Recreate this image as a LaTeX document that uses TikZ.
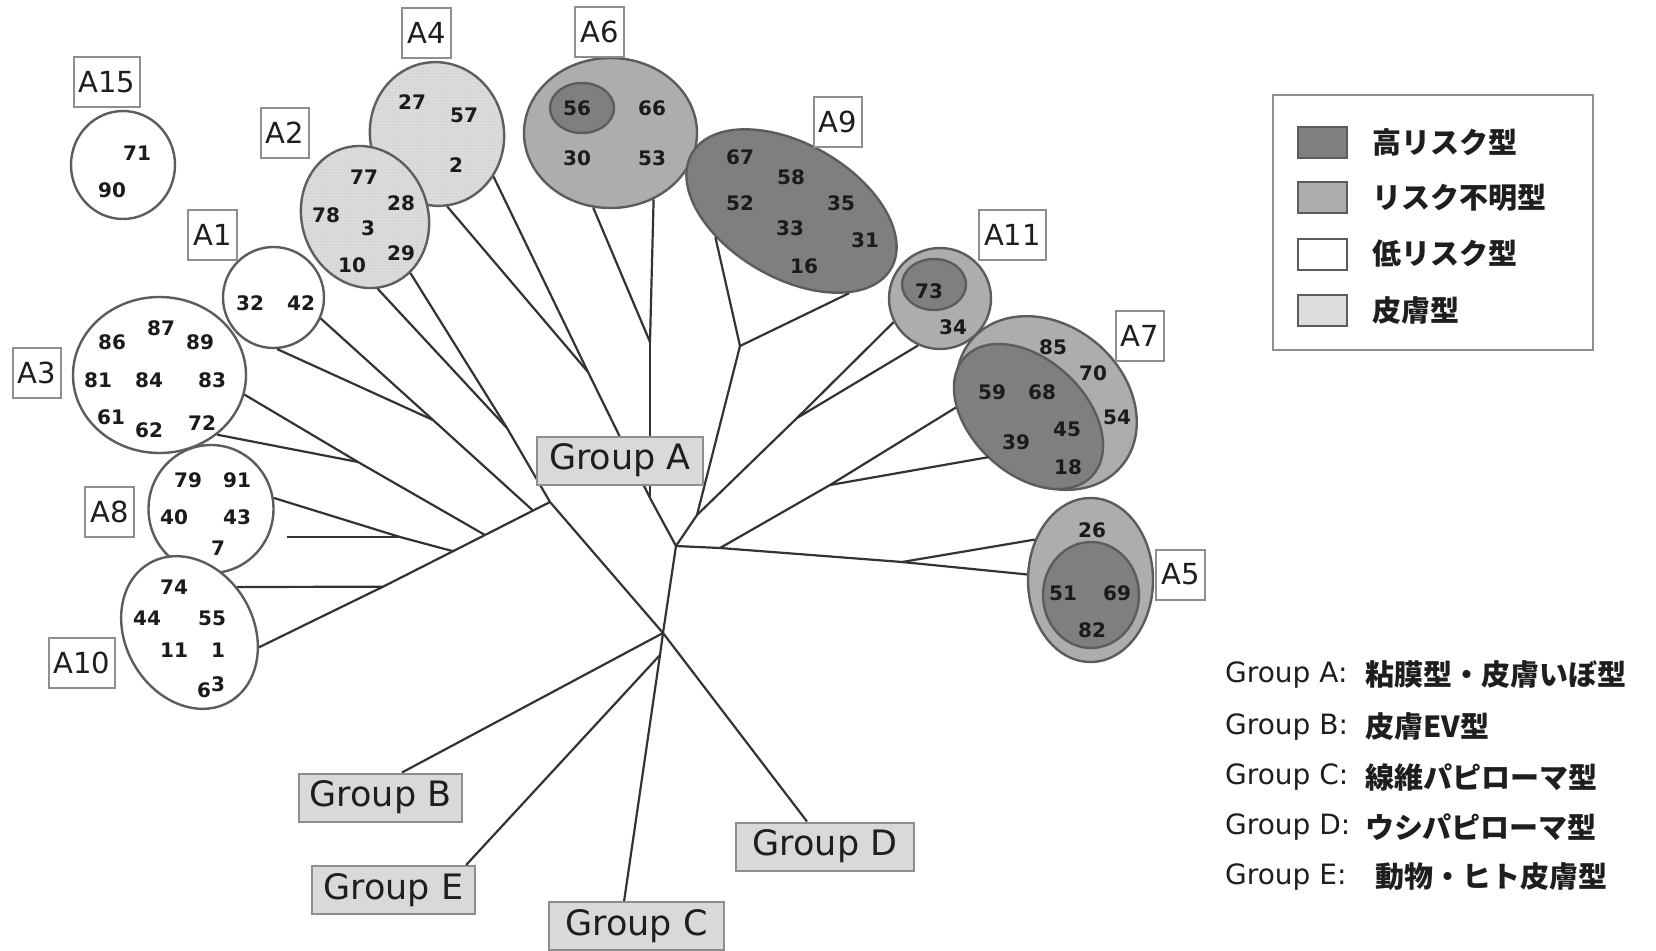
\documentclass[tikz,border=0pt]{standalone}
\usepackage{fontspec}
\setmainfont{DejaVu Sans}
\newfontfamily\jp{Noto Sans CJK JP}
\usetikzlibrary{shapes.geometric,calc,patterns}

\definecolor{hi}{HTML}{7F7F7F}
\definecolor{mid}{HTML}{ADADAD}
\definecolor{skin}{HTML}{DCDCDC}
\definecolor{skindot}{HTML}{B4B4B4}
\definecolor{rim}{HTML}{5C5C5C}
\definecolor{twig}{HTML}{333333}
\definecolor{tag}{HTML}{D9D9D9}
\definecolor{tagrim}{HTML}{8E8E8E}
\definecolor{ink}{HTML}{1E1E1E}

\begin{document}
\begin{tikzpicture}[x=1pt,y=-1pt,
  ring/.style={ellipse, draw=rim, line width=2.4pt, inner sep=0pt},
  lowfill/.style={fill=white},
  midfill/.style={fill=mid},
  hifill/.style={fill=hi},
  skinfill/.style={fill=skin, postaction={pattern=dots, pattern color=skindot}},
  num/.style={font=\bfseries\fontsize{20}{20}\selectfont, text=ink!90!black, inner sep=0pt},
  tagbox/.style={draw=tagrim, fill=white, line width=2pt, font=\fontsize{29}{29}\selectfont,
    minimum height=50pt, minimum width=47pt, inner xsep=5pt, text=ink},
  grp/.style={draw=tagrim, fill=tag, line width=2pt, font=\fontsize{35}{35}\selectfont,
    minimum height=48pt, inner sep=0pt, text=ink},
  branch/.style={draw=twig, line width=2.2pt, line join=round},
  swatch/.style={draw=rim, line width=2pt, minimum width=49pt, minimum height=31pt, inner sep=0pt},
  legtxt/.style={font=\jp\bfseries\fontsize{29}{29}\selectfont, anchor=west, inner sep=0pt, text=ink},
  grptxt/.style={font=\fontsize{28}{28}\selectfont, anchor=west, inner sep=0pt, text=ink}]

\useasboundingbox (0,0) rectangle (1656,950);

% ---------- clusters of types ----------
\node[ring, lowfill, minimum width=104pt, minimum height=108pt] (a15) at (123,165) {};
\node[ring, skinfill, minimum width=134pt, minimum height=144pt, rotate=10] (a4) at (437,134) {};
\node[ring, skinfill, minimum width=126pt, minimum height=144pt, rotate=20] (a2) at (365,217) {};
\node[ring, lowfill, minimum width=101pt, minimum height=101pt] (a1) at (273.5,297.5) {};
\node[ring, lowfill, minimum width=173pt, minimum height=156pt] (a3) at (159.5,375) {};
\node[ring, lowfill, minimum width=125pt, minimum height=128pt] (a8) at (211,509) {};
\node[ring, lowfill, minimum width=128pt, minimum height=160pt, rotate=30] (a10) at (189.5,632.5) {};

\node[ring, midfill, minimum width=173pt, minimum height=150pt] (a6) at (610.5,133) {};
\node[ring, hifill, minimum width=64pt, minimum height=50pt] (a6h) at (582,108) {};
\node[ring, hifill, minimum width=230pt, minimum height=134pt, rotate=-30] (a9) at (791.5,211) {};
\node[ring, midfill, minimum width=102pt, minimum height=101pt] (a11) at (940,298.5) {};
\node[ring, hifill, minimum width=64pt, minimum height=51pt] (a11h) at (934,284.5) {};
\node[ring, midfill, minimum width=196pt, minimum height=156pt, rotate=-40] (a7) at (1046.5,403) {};
\node[ring, hifill, minimum width=174pt, minimum height=114pt, rotate=-43] (a7h) at (1028.5,416.5) {};
\node[ring, midfill, minimum width=125pt, minimum height=164pt] (a5) at (1090.5,580) {};
\node[ring, hifill, minimum width=96pt, minimum height=106pt] (a5h) at (1091,595) {};

% ---------- type numbers ----------
\foreach \t/\x/\y in {71/137/153, 90/112/190,
  27/412/102, 57/464/115, 2/456/165,
  77/364/177, 28/401/203, 78/326/215, 3/368/228, 29/401/253, 10/352/265,
  32/250/303, 42/301/303,
  86/112/342, 87/161/328, 89/200/342, 81/98/380, 84/149/380, 83/212/380,
  61/111/417, 62/149/430, 72/202/423,
  79/188/480, 91/237/480, 40/174/517, 43/237/517, 7/218/548,
  74/174/587, 44/147/618, 55/212/618, 11/174/650, 1/218/650,
  56/577/108, 66/652/108, 30/577/158, 53/652/158,
  67/740/157, 58/791/177, 52/740/203, 35/841/203, 33/790/228, 31/865/240, 16/804/266,
  73/929/291, 34/953/327,
  85/1053/347, 70/1093/373, 59/992/392, 68/1042/392, 54/1117/417, 45/1067/429,
  39/1016/442, 18/1068/467,
  26/1092/530, 51/1063/593, 69/1117/593, 82/1092/630}
  {\node[num] (n\t) at (\x,\y) {\t};}
\node[num] (n63) at (211,687) {6\raisebox{6pt}{3}};

% ---------- cluster tags ----------
\node[tagbox] (t15) at (107,82) {A15};
\node[tagbox] (t4) at (426.5,33) {A4};
\node[tagbox] (t2) at (285,133) {A2};
\node[tagbox] (t1) at (212.5,235) {A1};
\node[tagbox] (t3) at (37,373) {A3};
\node[tagbox] (t8) at (109.5,512) {A8};
\node[tagbox] (t10) at (82,662.5) {A10};
\node[tagbox] (t6) at (599.5,32) {A6};
\node[tagbox] (t9) at (838,122) {A9};
\node[tagbox] (t11) at (1012.5,234.5) {A11};
\node[tagbox] (t7) at (1140,335.5) {A7};
\node[tagbox] (t5) at (1180.5,574.5) {A5};

% ---------- group boxes B to E ----------
\node[grp, minimum width=163pt] (gb) at (380.5,797.5) {Group B};
\node[grp, minimum width=163pt] (ge) at (393.5,890) {Group E};
\node[grp, minimum width=175pt] (gc) at (636.5,926) {Group C};
\node[grp, minimum width=178pt] (gd) at (825,846.5) {Group D};

% ---------- branch points ----------
\coordinate (R) at (663,633);
\coordinate (Jec) at (660,655);
\coordinate (R2) at (676,546);
\coordinate (Jl) at (650,498);
\coordinate (Ja6) at (650,342);
\coordinate (Ja4) at (588,372);
\coordinate (Jmid) at (697,515);
\coordinate (Ja9) at (740,346);
\coordinate (Ja11) at (797,418);
\coordinate (Jr) at (720,548);
\coordinate (Ja7) at (830,485);
\coordinate (Ja5) at (902,562);
\coordinate (J1) at (550,502);
\coordinate (Ja2) at (507,428);
\coordinate (Ta1) at (533,510.6);
\coordinate (Ja1) at (433,420);
\coordinate (Ta3) at (485,535);
\coordinate (Ja3) at (358,462);
\coordinate (Ta8) at (453,551.2);
\coordinate (Ja8) at (400,537);
\coordinate (Ta10) at (383,586.7);
\coordinate (a8tip) at (287,537);
\coordinate (a10tip) at (237,587);

% ---------- tree ----------
\draw[branch] (R) -- (Jec);
\draw[branch] (Jec) -- ($(ge.north west)!0.94!(ge.north east)$);
\draw[branch] (Jec) -- ($(gc.north west)!0.43!(gc.north east)$);
\draw[branch] (R) -- ($(gb.north west)!0.63!(gb.north east)$);
\draw[branch] (R) -- ($(gd.north west)!0.40!(gd.north east)$);

% left clade
\draw[branch] (R) -- (J1);
\draw[branch] (J1) -- (Ja2);
\draw[branch] (Ja2) -- (a2.-100);
\draw[branch] (Ja2) -- (a2.-71);
\draw[branch] (J1) -- (Ta1) -- (Ta3) -- (Ta8) -- (Ta10) -- (a10.-42);
\draw[branch] (Ta1) -- (Ja1);
\draw[branch] (Ja1) -- (a1.-24);
\draw[branch] (Ja1) -- (a1.-86);
\draw[branch] (Ta3) -- (Ja3);
\draw[branch] (Ja3) -- (a3.-13.5);
\draw[branch] (Ja3) -- (a3.-46);
\draw[branch] (Ta8) -- (Ja8);
\draw[branch] (Ja8) -- (a8.10);
\draw[branch] (Ja8) -- (a8tip);
\draw[branch] (Ta10) -- (a10tip);

% upper clade
\draw[branch] (R) -- (R2);
\draw[branch] (R2) -- (Jl);
\draw[branch] (Jl) -- (Ja6);
\draw[branch] (Ja6) -- (a6.-103);
\draw[branch] (Ja6) -- (a6.-57);
\draw[branch] (Jl) -- (Ja4);
\draw[branch] (Ja4) -- (a4.-92);
\draw[branch] (Ja4) -- (a4.-47.5);

% right clade
\draw[branch] (R2) -- (Jmid);
\draw[branch] (Jmid) -- (Ja9);
\draw[branch] (Ja9) -- (a9.-131);
\draw[branch] (Ja9) -- (a9.-25.4);
\draw[branch] (Jmid) -- (Ja11);
\draw[branch] (Ja11) -- (a11.-153.4);
\draw[branch] (Ja11) -- (a11.-115);
\draw[branch] (R2) -- (Jr);
\draw[branch] (Jr) -- (Ja5);
\draw[branch] (Ja5) -- (a5.144);
\draw[branch] (Ja5) -- (a5.175);
\draw[branch] (Jr) -- (Ja7);
\draw[branch] (Ja7) -- (a7h.216.4);
\draw[branch] (Ja7) -- (a7.-97.6);

% group A box sits over the branches
\node[grp, minimum width=166pt] (ga) at (620,460.5) {Group A};

% ---------- risk legend ----------
\node[draw=tagrim, line width=2pt, fill=white, minimum width=320pt, minimum height=255pt, inner sep=0pt] (legend) at (1433,222.5) {};
\node[swatch, fill=hi] (s1) at (1322.5,142.5) {};
\node[swatch, fill=mid] (s2) at (1322.5,197.5) {};
\node[swatch, fill=white] (s3) at (1322.5,254) {};
\node[swatch, fill=skin] (s4) at (1322.5,310.5) {};
\node[legtxt] (l1) at (1372,142.5) {高リスク型};
\node[legtxt] (l2) at (1372,197.5) {リスク不明型};
\node[legtxt] (l3) at (1372,254) {低リスク型};
\node[legtxt] (l4) at (1372,310.5) {皮膚型};

% ---------- group legend ----------
\node[grptxt] (ka) at (1225,675) {Group A:};
\node[grptxt] (kb) at (1225,727) {Group B:};
\node[grptxt] (kc) at (1225,777) {Group C:};
\node[grptxt] (kd) at (1225,827) {Group D:};
\node[grptxt] (ke) at (1225,877) {Group E:};
\node[legtxt] (ja) at (1365,675) {粘膜型・皮膚いぼ型};
\node[legtxt] (jb) at (1365,727) {皮膚EV型};
\node[legtxt] (jc) at (1365,777) {線維パピローマ型};
\node[legtxt] (jd) at (1365,827) {ウシパピローマ型};
\node[legtxt] (je) at (1375,877) {動物・ヒト皮膚型};
\end{tikzpicture}
\end{document}
